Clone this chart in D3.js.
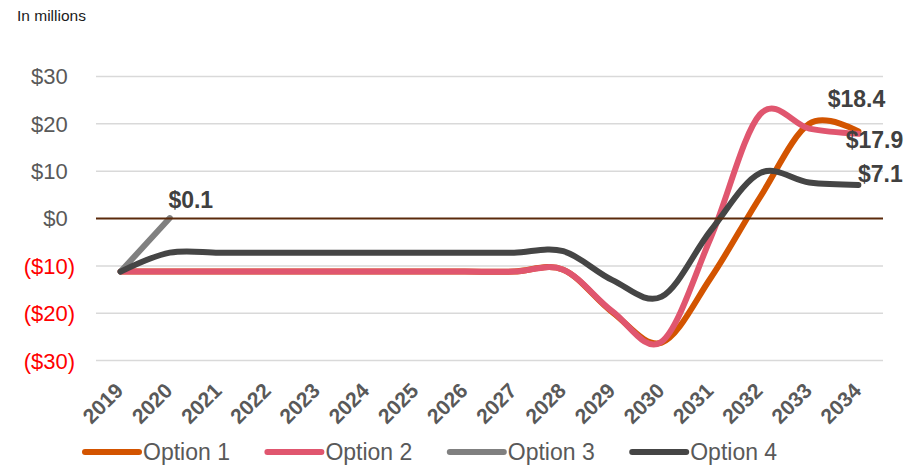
<!DOCTYPE html>
<html>
<head>
<meta charset="utf-8">
<script src="https://cdn.jsdelivr.net/npm/d3@7"></script>
<style>
  html, body { margin: 0; padding: 0; background: #ffffff; }
  svg { display: block; font-family: "Liberation Sans", Arial, sans-serif; }
</style>
</head>
<body>
<svg id="chart" width="906" height="465"></svg>
<script>
// Annual values, in millions of dollars
const years = ["2019","2020","2021","2022","2023","2024","2025","2026","2027","2028","2029","2030","2031","2032","2033","2034"];
const option1 = [-11.2,-11.2,-11.2,-11.2,-11.2,-11.2,-11.2,-11.2,-11.2,-10.8,-19.8,-26.2,-12.5,4.5,20.0,18.4];
const option2 = [-11.2,-11.2,-11.2,-11.2,-11.2,-11.2,-11.2,-11.2,-11.2,-10.8,-19.6,-26.0,-4.0,22.0,19.0,17.9];
const option3 = [-11.2,0.1,null,null,null,null,null,null,null,null,null,null,null,null,null,null];
const option4 = [-11.2,-7.2,-7.2,-7.2,-7.2,-7.2,-7.2,-7.2,-7.2,-6.9,-13.0,-16.5,-2.5,9.6,7.6,7.1];
const seriesNames = ["Option 1","Option 2","Option 3","Option 4"];
const yTicks = [30,20,10,0,-10,-20,-30];

const colors = ["#D35400","#E0566F","#808080","#454545"];
const seriesValues = [option1, option2, option3, option4];

const svg = d3.select("#chart");

const x = d3.scaleBand().domain(years).range([96, 883]);
const y = d3.scaleLinear().domain([-30, 30]).range([360.6, 76.5]);
const cx = d => x(d) + x.bandwidth() / 2;

// unit caption
svg.append("text")
  .attr("x", 17).attr("y", 21)
  .attr("font-size", 15.5)
  .attr("fill", "#1a1a1a")
  .text("In millions");

// horizontal gridlines
svg.append("g")
  .selectAll("line")
  .data(yTicks.filter(t => t !== 0))
  .join("line")
  .attr("x1", 96).attr("x2", 883)
  .attr("y1", d => y(d)).attr("y2", d => y(d))
  .attr("stroke", "#D9D9D9")
  .attr("stroke-width", 1.5);

// y-axis labels: accounting format, negatives in red with parentheses
const fmtMoney = v => v < 0 ? `($${Math.abs(v)})` : `$${v}`;
svg.append("g")
  .selectAll("text")
  .data(yTicks)
  .join("text")
  .attr("x", d => d < 0 ? 75 : 67.7)
  .attr("y", d => y(d))
  .attr("dy", "0.36em")
  .attr("text-anchor", "end")
  .attr("font-size", 22)
  .attr("fill", d => d < 0 ? "#FF0000" : "#595959")
  .text(fmtMoney);

// x-axis labels, rotated
svg.append("g")
  .selectAll("text")
  .data(years)
  .join("text")
  .attr("text-anchor", "end")
  .attr("transform", d => `translate(${cx(d) + 4},392) rotate(-45)`)
  .attr("font-size", 21)
  .attr("font-weight", "bold")
  .attr("fill", "#595959")
  .text(d => d);

// series lines
const line = d3.line()
  .defined(d => d.v !== null)
  .x(d => cx(d.year))
  .y(d => y(d.v))
  .curve(d3.curveCardinal.tension(0));

seriesValues.forEach((vals, i) => {
  const pts = years.map((yr, j) => ({ year: yr, v: vals[j] }));
  svg.append("path")
    .datum(pts)
    .attr("d", line)
    .attr("fill", "none")
    .attr("stroke", colors[i])
    .attr("stroke-width", 6)
    .attr("stroke-linecap", "round")
    .attr("stroke-linejoin", "round");
});

// zero axis line
svg.append("line")
  .attr("x1", 96).attr("x2", 883)
  .attr("y1", y(0)).attr("y2", y(0))
  .attr("stroke", "#5B2A0B")
  .attr("stroke-width", 2);

// value labels at series end points
const labelSpecs = [
  { s: 0, idx: 15, dx: -2, dy: -24, anchor: "middle" },
  { s: 1, idx: 15, dx: 16, dy: 14, anchor: "middle" },
  { s: 2, idx: 1, dx: 21, dy: -10, anchor: "middle" },
  { s: 3, idx: 15, dx: 22, dy: -3, anchor: "middle" }
];
svg.append("g")
  .selectAll("text")
  .data(labelSpecs)
  .join("text")
  .attr("x", d => cx(years[d.idx]) + d.dx)
  .attr("y", d => y(seriesValues[d.s][d.idx]) + d.dy)
  .attr("text-anchor", d => d.anchor)
  .attr("font-size", 23)
  .attr("font-weight", "bold")
  .attr("fill", "#404040")
  .text(d => "$" + seriesValues[d.s][d.idx].toFixed(1));

// legend
const legend = svg.append("g")
  .selectAll("g")
  .data(seriesNames)
  .join("g")
  .attr("transform", (d, i) => `translate(${83 + i * 182.4},452)`);
legend.append("line")
  .attr("x1", 2).attr("x2", 56)
  .attr("y1", 0).attr("y2", 0)
  .attr("stroke", (d, i) => colors[i])
  .attr("stroke-width", 6)
  .attr("stroke-linecap", "round");
legend.append("text")
  .attr("x", 60).attr("y", 0)
  .attr("dy", "0.36em")
  .attr("font-size", 23)
  .attr("fill", "#595959")
  .text(d => d);
</script>
</body>
</html>
